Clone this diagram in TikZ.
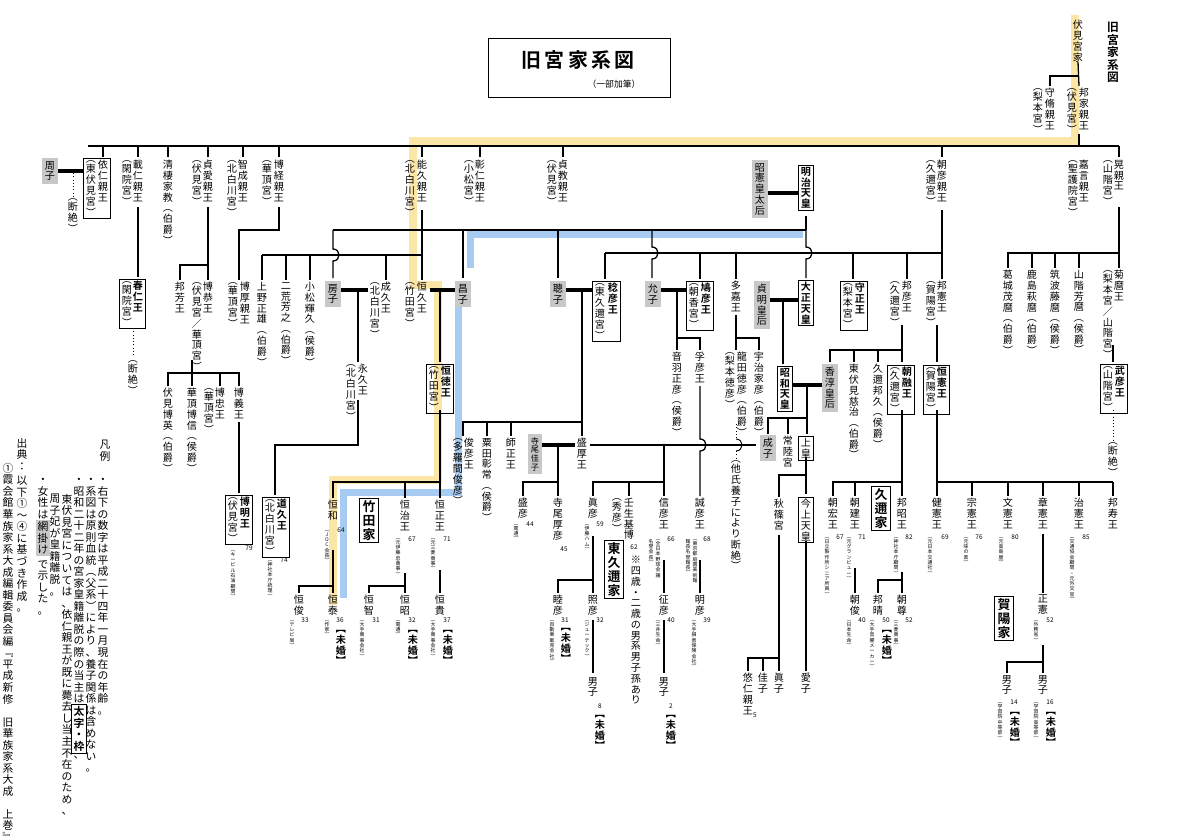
\documentclass[tikz,border=0pt]{standalone}
\usepackage{fontspec}
\setmainfont{Noto Sans CJK JP}[BoldFont={Noto Sans CJK JP Bold}]
\usetikzlibrary{fit}
\definecolor{yel}{HTML}{FBE6A8}
\definecolor{blu}{HTML}{A8CBF2}
\definecolor{gry}{HTML}{C8C8C8}
\def\vsloop#1{\ifx#1\relax\else\hbox to 1.05em{\hss#1\hss}\expandafter\vsloop\fi}
\newcommand\vs[1]{\vtop{\baselineskip=1.07em\lineskiplimit=-20pt\lineskip=0pt\vsloop#1\relax}}
\newcommand\pp[4][nm]{\node[#1] (#2) at (#3) {\vs{#4}};}
\newcommand\ag[3]{\node[age] (#1) at (#2) {#3};}
\newcommand\vb[4]{\draw[ln] (#1,#2) -- (#1,#3-6) .. controls (#1+8,#3-6) and (#1+8,#3+6) .. (#1,#3+6) -- (#1,#4);}
\begin{document}
\begin{tikzpicture}[x=0.03cm,y=-0.03cm,
 nm/.style={anchor=north,inner sep=0,font=\fontsize{8.6}{9}\selectfont},
 nb/.style={nm,font=\bfseries\fontsize{8.6}{9}\selectfont},
 gr/.style={nm,fill=gry,inner sep=2.5pt},
 job/.style={anchor=north,inner sep=0,font=\fontsize{4.2}{4.5}\selectfont},
 age/.style={anchor=north,inner sep=0,font=\fontsize{5.5}{6}\selectfont},
 mk/.style={anchor=north,inner sep=0,font=\bfseries\fontsize{8.6}{9}\selectfont},
 bx/.style={draw,line width=0.8pt,inner sep=1.6pt},
 house/.style={draw,line width=0.7pt,anchor=north,inner sep=2pt,font=\bfseries\fontsize{11}{12}\selectfont},
 lg/.style={anchor=north,inner sep=0,font=\fontsize{9.2}{10}\selectfont},
 ln/.style={line width=1.1pt},
 mar/.style={line width=2.6pt},
 dot/.style={line width=0.8pt,dotted}]
\useasboundingbox (0,0) rectangle (1200,839);
\fill[white] (0,0) rectangle (1200,839);
% highlights
\draw[yel,line width=0.24cm] (1075,15) -- (1075,141) -- (413,141) -- (413,285) -- (438,285) -- (438,480) -- (333,480) -- (333,605);
\draw[blu,line width=0.21cm] (470,268) -- (470,234) -- (803,234);
\draw[blu,line width=0.21cm] (458,307) -- (458,492) -- (343,492) -- (343,598);
% title
\node[draw,line width=0.6pt,minimum width=5.46cm,minimum height=1.77cm,anchor=north west] (tbox) at (488,38) {};
\node[font=\bfseries\fontsize{17}{18}\selectfont] (title) at (578,60) {旧\,宮\,家\,系\,図};
\node[font=\fontsize{7.5}{8}\selectfont] (sub) at (614,84) {（一部加筆）};
\node[anchor=north,inner sep=0,font=\bfseries\fontsize{10}{11}\selectfont] (t2) at (1113,22) {\vs{旧宮家系図}};
% top
\pp{fushimi}{1078,20}{伏見宮家}
\pp{kuniie}{1084,88}{邦家親王}\pp{kuniieS}{1072,88}{︵伏見宮︶}
\pp{morioki}{1050,88}{守脩親王}\pp{moriokiS}{1038,88}{︵梨本宮︶}
\draw[ln] (fushimi.south) -- (1079,86);
\draw[ln] (1079,76) -| (1050,86);
\draw[ln] (1079,134) -- (1079,146);
\draw[ln] (88,146) -- (1119,146);
\foreach \x in {103,138,168,208,243,279,422,480,563,942,1119} \draw[ln] (\x,146) -- (\x,157);
% left branch
\pp[gr]{chikako}{50,158}{周子}
\pp{yorihito}{103,160}{依仁親王}\pp{yorihitoS}{91,160}{︵東伏見宮︶}
\node[bx,fit=(yorihito)(yorihitoS)] (yorihitoB) {};
\draw[mar] (chikako.east |- 0,171) -- (yorihitoB.west |- 0,171);
\draw[dot] (73,173) -- (73,196);
\pp{dz1}{73,198}{︵断絶︶}
\pp{kotohito}{138,160}{載仁親王}\pp{kotohitoS}{127,160}{︵閑院宮︶}
\draw[ln] (138,207) -- (138,277);
\pp[nb]{haruhito}{138,281}{春仁王}\pp{haruhitoS}{127,281}{︵閑院宮︶}
\node[bx,fit=(haruhito)(haruhitoS)] (haruhitoB) {};
\draw[dot] (133,328) -- (133,357);
\pp{dz2}{133,360}{︵断絶︶}
\pp{kiyosu}{168,160}{清棲家教︵伯爵︶}
\pp{sadanaru}{208,160}{貞愛親王}\pp{sadanaruS}{197,160}{︵伏見宮︶}
\draw[ln] (208,207) -- (208,280); \draw[ln] (208,265) -| (180,280);
\pp{kuniyoshi}{180,282}{邦芳王}
\pp{hiroyasu}{208,282}{博恭王}\pp{hiroyasuS}{197,282}{︵伏見宮／華頂宮︶}
\draw[ln] (192,360) -- (192,386); \draw[ln] (168,386) |- (239,373) -- (239,386); \draw[ln] (220,373) -- (220,386);
\pp{hirohide}{168,388}{伏見博英︵伯爵︶}
\pp{hironobu}{192,388}{華頂博信︵侯爵︶}
\pp{hirotada}{220,388}{博忠王}\pp{hirotadaS}{209,388}{︵華頂宮︶}
\pp{hiroyoshi}{239,388}{博義王}
\draw[ln] (239,422) -- (239,493);
\pp[nb]{hiroaki}{245,497}{博明王}\pp{hiroakiS}{233,497}{︵伏見宮︶}
\node[bx,fit=(hiroaki)(hiroakiS)] (hiroakiB) {};
\ag{a79}{249,546}{79}\pp[job]{j79}{233,550}{︵キービル石油顧問︶}
\pp{sakihisa}{243,160}{智成親王}\pp{sakihisaS}{232,160}{︵北白川宮︶}
\pp{hirotsune}{279,160}{博経親王}\pp{hirotsuneS}{267,160}{︵華頂宮︶}
\draw[ln] (279,207) -- (279,230) -| (239,280);
\pp{hiroatsu}{245,282}{博厚親王}\pp{hiroatsuS}{233,282}{︵華頂宮︶}
% Kitashirakawa
\pp{yoshihisa}{422,160}{能久親王}\pp{yoshihisaS}{410,160}{︵北白川宮︶}
\draw[ln] (422,210) -- (422,280);
\draw[ln] (262,255) -- (422,255);
\foreach \x in {262,286,310,386} \draw[ln] (\x,255) -- (\x,280);
\pp{ueno}{262,282}{上野正雄︵伯爵︶}
\pp{futara}{286,282}{二荒芳之︵伯爵︶}
\pp{komatsu}{310,282}{小松輝久︵侯爵︶}
\pp{naruhisa}{386,282}{成久王}\pp{naruhisaS}{375,282}{︵北白川宮︶}
\pp{tsunehisa}{422,282}{恒久王}\pp{tsunehisaS}{410,282}{︵竹田宮︶}
\pp[gr]{fusako}{333,281}{房子}
\draw[mar] (fusako.east |- 0,290) -- (368,290);
\draw[ln] (358,290) -- (358,362);
\pp{nagahisa}{363,364}{永久王}\pp{nagahisaS}{351,364}{︵北白川宮︶}
\draw[ln] (358,400) -- (358,445) -| (275,495);
\pp[nb]{michihisa}{282,499}{道久王}\pp{michihisaS}{270,499}{︵北白川宮︶}
\node[bx,fit=(michihisa)(michihisaS)] (michihisaB) {};
\ag{a74}{284,558}{74}\pp[job]{j74}{270,560}{︵神社本庁統理︶}
% Takeda
\pp[gr]{masako}{463,281}{昌子}
\draw[mar] (430,290) -- (masako.west |- 0,290);
\draw[ln] (440,290) -- (440,362);
\pp[nb]{tsunenori}{446,366}{恒徳王}\pp{tsunenoriS}{434,366}{︵竹田宮︶}
\node[bx,fit=(tsunenori)(tsunenoriS)] (tsunenoriB) {};
\draw[ln] (440,410) -- (440,498); \draw[ln] (333,498) |- (440,482); \draw[ln] (405,482) -- (405,498);
\pp{tsunekazu}{333,500}{恒和}\ag{a64}{341,528}{64}\pp[job]{j64}{327,530}{︵JOC会長︶}
\node[house] (takeda) at (369,498) {\vs{竹田家}};
\pp{tsuneharu}{405,500}{恒治王}\ag{a67}{412,537}{67}\pp[job]{j67}{398,538}{︵元伊藤忠商事︶}
\pp{tsunetada}{440,500}{恒正王}\ag{a71}{447,537}{71}\pp[job]{j71}{433,538}{︵元三菱商事︶}
\draw[ln] (333,550) -- (333,593); \draw[ln] (333,586) -| (299,593);
\draw[ln] (405,573) -- (405,593); \draw[ln] (405,586) -| (369,593);
\draw[ln] (440,570) -- (440,593);
\pp{tsuneyoshi}{299,595}{恒俊}\ag{a33}{305,618}{33}\pp[job]{j33}{292,620}{︵テレビ局︶}
\pp{tsuneyasu}{333,595}{恒泰}\ag{a36}{340,618}{36}\pp[job]{j36}{327,620}{︵作家︶}\pp[mk]{m36}{341,630}{︻未婚︼}
\pp{tsunetomo}{369,595}{恒智}\ag{a31}{376,618}{31}\pp[job]{j31}{362,620}{︵大手商事会社︶}
\pp{tsuneaki}{405,595}{恒昭}\ag{a32}{412,618}{32}\pp[job]{j32}{398,620}{︵電通︶}\pp[mk]{m32}{413,630}{︻未婚︼}
\pp{tsunetaka}{440,595}{恒貴}\ag{a37}{447,618}{37}\pp[job]{j37}{433,620}{︵大手商事会社︶}\pp[mk]{m37}{448,630}{︻未婚︼}
% Komatsu, Fushimi
\pp{akihito}{480,160}{彰仁親王}\pp{akihitoS}{469,160}{︵小松宮︶}
\pp{sadanori}{563,160}{貞教親王}\pp{sadanoriS}{552,160}{︵伏見宮︶}
% Meiji
\pp[gr]{shoken}{760,160}{昭憲皇太后}
\pp[nb]{meiji}{806,167}{明治天皇}
\node[bx,fit=(meiji)] (meijiB) {};
\draw[mar] (shoken.east |- 0,193) -- (meijiB.west |- 0,193);
\draw[ln] (333,230) -- (806,230);
\draw[ln] (806,216) -- (806,230);
\vb{806}{230}{253}{278}
\vb{333}{230}{255}{278}
\draw[ln] (463,230) -- (463,278); \draw[ln] (558,230) -- (558,278);
\vb{652}{230}{253}{278}
\draw[ln] (605,253) -- (942,253);
\foreach \x in {605,700,736,853,907} \draw[ln] (\x,253) -- (\x,279);
\draw[ln] (942,210) -- (942,279);
\pp[gr]{toshiko}{558,281}{聰子}
\pp[nb]{naruhiko}{613,283}{稔彦王}\pp{naruhikoS}{600,283}{︵東久邇宮︶}
\node[bx,fit=(naruhiko)(naruhikoS)] (naruhikoB) {};
\draw[mar] (toshiko.east |- 0,290) -- (naruhikoB.west |- 0,290);
\draw[ln] (582,290) -- (582,436); \draw[ln] (463,436) |- (582,422);
\draw[ln] (487,422) -- (487,436); \draw[ln] (511,422) -- (511,436);
\pp{toshihiko}{469,438}{俊彦王}\pp{toshihikoS}{458,438}{︵多羅間俊彦︶}
\pp{awata}{487,438}{粟田彰常︵侯爵︶}
\pp{moromasa}{511,438}{師正王}
\pp{morihiro}{582,438}{盛厚王}
\node[anchor=north,fill=gry,inner sep=2.5pt,font=\fontsize{7}{7.4}\selectfont] (yoshiko) at (535,434) {\vs{寺尾佳子}};
\draw[mar] (yoshiko.east |- 0,445) -- (575,445);
\draw[ln] (590,445) -- (756,445);
\draw[ln] (558,445) -- (558,496); \draw[ln] (523,496) |- (558,482);
\pp{morihiko}{523,498}{盛彦}\ag{a44}{530,522}{44}\pp[job]{j44}{516,524}{︵電通︶}
\pp{atsuhiko}{558,498}{寺尾厚彦}\ag{a45}{564,547}{45}
\draw[ln] (664,445) -- (664,496); \draw[ln] (593,496) |- (664,482); \draw[ln] (629,482) -- (629,496);
\pp{nobuhikoM}{593,498}{眞彦}\ag{a59}{600,522}{59}\pp[job]{j59}{587,524}{︵伊藤ハム︶}
\pp{mibu}{629,498}{壬生基博}\pp{mibuS}{617,498}{︵秀彦︶}\ag{a62}{634,545}{62}
\pp{note}{636,556}{※四歳・二歳の男系男子孫あり}
\pp{nobuhiko}{664,498}{信彦王}\ag{a66}{671,537}{66}\pp[job]{j66}{658,539}{︵全日本野球会議}\pp[job]{j66b}{651,539}{名誉会長︶}
\node[house] (higashikuni) at (614,540) {\vs{東久邇家}};
\draw[ln] (593,536) -- (593,593); \draw[ln] (593,580) -| (558,593);
\draw[ln] (664,560) -- (664,593);
\pp{mutsuhiko}{558,595}{睦彦}\ag{b31}{565,618}{31}\pp[job]{jb31}{552,620}{︵自動車販売会社︶}\pp[mk]{mb31}{566,628}{︻未婚︼}
\pp{teruhiko}{593,595}{照彦}\ag{b32}{600,618}{32}\pp[job]{jb32}{587,620}{︵ジューテック︶}
\draw[ln] (593,620) -- (593,673);
\pp{dan1}{593,677}{男子}\ag{a8}{600,704}{8}\pp[mk]{m8}{600,715}{︻未婚︼}
\pp{yukihiko}{664,595}{征彦}\ag{b40}{671,618}{40}\pp[job]{jb40}{658,620}{︵三井生命︶}
\draw[ln] (664,620) -- (664,673);
\pp{dan2}{664,677}{男子}\ag{a2}{671,704}{2}\pp[mk]{m2}{671,715}{︻未婚︼}
% Asaka
\pp[gr]{nobuko}{653,281}{允子}
\pp[nb]{yasuhiko}{706,283}{鳩彦王}\pp{yasuhikoS}{694,283}{︵朝香宮︶}
\node[bx,fit=(yasuhiko)(yasuhikoS)] (yasuhikoB) {};
\draw[mar] (nobuko.east |- 0,290) -- (yasuhikoB.west |- 0,290);
\draw[ln] (677,290) -- (677,350); \draw[ln] (677,338) -| (700,350);
\pp{otowa}{677,352}{音羽正彦︵侯爵︶}
\pp{takahiko}{700,352}{孚彦王}
\vb{700}{386}{445}{496}
\pp{tomohiko}{700,498}{誠彦王}\ag{a68}{707,537}{68}\pp[job]{j68}{695,539}{︵東京都庭園美術館}\pp[job]{j68b}{688,539}{館長名誉館長︶}
\draw[ln] (700,560) -- (700,593);
\pp{akihiko}{700,595}{明彦}\ag{a39}{707,618}{39}\pp[job]{j39}{694,620}{︵大手損害保険会社︶}
% Taka
\pp{taka}{736,281}{多嘉王}
\draw[ln] (736,315) -- (736,350); \draw[ln] (736,338) -| (759,350);
\pp{tatsuta}{742,352}{龍田徳彦︵伯爵︶}\pp{tatsutaS}{730,352}{︵梨本徳彦︶}
\pp{uji}{759,352}{宇治家彦︵伯爵︶}
\draw[dot] (736,424) -- (736,439); \draw[line width=0.8pt] (736,439) .. controls (744,439) and (744,451) .. (736,451); \draw[dot] (736,451) -- (736,458);
\pp{dz3}{736,460}{︵他氏養子により断絶︶}
% Taisho
\pp[gr]{teimei}{762,281}{貞明皇后}
\pp[nb]{taisho}{806,282}{大正天皇}
\node[bx,fit=(taisho)] (taishoB) {};
\draw[mar] (teimei.east |- 0,300) -- (taishoB.west |- 0,300);
\draw[ln] (783,300) -- (783,364);
\pp[nb]{showa}{785,368}{昭和天皇}
\node[bx,fit=(showa)] (showaB) {};
\pp[gr]{kojun}{830,364}{香淳皇后}
\draw[mar] (showaB.east |- 0,385) -- (kojun.west |- 0,385);
\draw[ln] (807,385) -- (807,434); \draw[ln] (768,434) |- (807,418); \draw[ln] (788,418) -- (788,434);
\pp[gr]{shigeko}{768,435}{成子}
\pp{hitachi}{788,436}{常陸宮}
\pp{joko}{806,438}{上皇}
\node[bx,fit=(joko)] (jokoB) {};
\draw[ln] (806,457) -- (806,494); \draw[ln] (779,497) |- (806,475);
\pp{akishino}{779,499}{秋篠宮}
\pp{kinjo}{806,499}{今上天皇}
\node[bx,fit=(kinjo)] (kinjoB) {};
\draw[ln] (779,535) -- (779,671); \draw[ln] (748,671) |- (779,658); \draw[ln] (763,658) -- (763,671);
\pp{hisahito}{748,673}{悠仁親王}\ag{a5}{755,713}{5}
\pp{kako}{763,673}{佳子}
\pp{mako}{779,673}{眞子}
\draw[ln] (806,541) -- (806,671);
\pp{aiko}{806,673}{愛子}
% Kuni / Nashimoto / Kaya
\pp{asahiko}{942,160}{朝彦親王}\pp{asahikoS}{931,160}{︵久邇宮︶}
\pp{yoshikoto}{1084,160}{嘉言親王}\pp{yoshikotoS}{1073,160}{︵聖護院宮︶}
\pp{akira}{1119,160}{晃親王}\pp{akiraS}{1108,160}{︵山階宮︶}
\draw[ln] (1119,207) -- (1119,268); \draw[ln] (1008,268) |- (1119,253);
\foreach \x in {1032,1055,1079} \draw[ln] (\x,253) -- (\x,268);
\pp{katsuragi}{1008,270}{葛城茂麿︵伯爵︶}
\pp{kashima}{1032,270}{鹿島萩麿︵伯爵︶}
\pp{tsukuba}{1055,270}{筑波藤麿︵侯爵︶}
\pp{yamashina}{1079,270}{山階芳麿︵侯爵︶}
\pp{kikumaro}{1119,270}{菊麿王}\pp{kikumaroS}{1108,270}{︵梨本宮／山階宮︶}
\draw[ln] (1113,345) -- (1113,362);
\pp[nb]{takehiko}{1120,366}{武彦王}\pp{takehikoS}{1108,366}{︵山階宮︶}
\node[bx,fit=(takehiko)(takehikoS)] (takehikoB) {};
\draw[dot] (1113,410) -- (1113,440);
\pp{dz4}{1113,442}{︵断絶︶}
\pp[nb]{morimasa}{860,283}{守正王}\pp{morimasaS}{848,283}{︵梨本宮︶}
\node[bx,fit=(morimasa)(morimasaS)] (morimasaB) {};
\pp{kunihiko}{907,281}{邦彦王}\pp{kunihikoS}{895,281}{︵久邇宮︶}
\draw[ln] (902,325) -- (902,362); \draw[ln] (830,362) |- (902,350); \draw[ln] (854,350) -- (854,362); \draw[ln] (878,350) -- (878,362);
\pp{higashifushimi}{854,364}{東伏見慈治︵伯爵︶}
\pp{kuniKunihisa}{878,364}{久邇邦久︵侯爵︶}
\pp[nb]{asaakira}{907,367}{朝融王}\pp{asaakiraS}{895,367}{︵久邇宮︶}
\node[bx,fit=(asaakira)(asaakiraS)] (asaakiraB) {};
\draw[ln] (902,410) -- (902,496); \draw[ln] (833,496) |- (902,482); \draw[ln] (855,482) -- (855,496);
\pp{asahiro}{833,498}{朝宏王}\ag{c67}{840,535}{67}\pp[job]{jc67}{827,537}{︵日立製作所シニア所員︶}
\pp{asatake}{855,498}{朝建王}\ag{c71}{862,535}{71}\pp[job]{jc71}{849,537}{︵元グランビュー︶}
\node[house] (kuni) at (881,486) {\vs{久邇家}};
\pp{kuniaki}{902,498}{邦昭王}\ag{c82}{909,535}{82}\pp[job]{jc82}{896,537}{︵神社本庁顧問︶}
\draw[ln] (855,568) -- (855,593);
\pp{asatoshi}{855,595}{朝俊}\ag{c40}{862,618}{40}\pp[job]{jc40}{849,620}{︵日本生命︶}
\draw[ln] (902,572) -- (902,593); \draw[ln] (878,593) |- (902,580);
\pp{kuniharu}{878,595}{邦晴}\ag{c50}{886,618}{50}\pp[job]{jc50}{872,620}{︵大手音響メーカー︶}\pp[mk]{mc50}{887,630}{︻未婚︼}
\pp{asataka}{902,595}{朝尊}\ag{c52}{909,618}{52}\pp[job]{jc52}{896,620}{︵三菱商事︶}
\pp{kuninori}{942,281}{邦憲王}\pp{kuninoriS}{931,281}{︵賀陽宮︶}
\draw[ln] (937,325) -- (937,362);
\pp[nb]{tsunenoriK}{942,367}{恒憲王}\pp{tsunenoriKS}{931,367}{︵賀陽宮︶}
\node[bx,fit=(tsunenoriK)(tsunenoriKS)] (tsunenoriKB) {};
\draw[ln] (937,410) -- (937,496); \draw[ln] (937,482) -- (1113,482);
\foreach \x in {972,1008,1043,1079,1113} \draw[ln] (\x,482) -- (\x,496);
\pp{takenori}{937,498}{健憲王}\ag{d69}{945,535}{69}\pp[job]{jd69}{930,537}{︵元日本交通社︶}
\pp{munenori}{972,498}{宗憲王}\ag{d76}{979,535}{76}\pp[job]{jd76}{966,537}{︵元味の素︶}
\pp{fuminori}{1008,498}{文憲王}\ag{d80}{1015,535}{80}\pp[job]{jd80}{1001,537}{︵元高島屋︶}
\pp{akinori}{1043,498}{章憲王}
\pp{harunori}{1079,498}{治憲王}\ag{d85}{1086,535}{85}\pp[job]{jd85}{1072,537}{︵交通協会顧問・元外交官︶}
\pp{kunihisaK}{1113,498}{邦寿王}
\draw[ln] (1043,534) -- (1043,593);
\pp{masanori}{1043,595}{正憲}\ag{d52}{1050,618}{52}\pp[job]{jd52}{1036,620}{︵外務省︶}
\node[house] (kaya) at (1004,596) {\vs{賀陽家}};
\draw[ln] (1043,645) -- (1043,673); \draw[ln] (1007,673) |- (1043,662);
\pp{dan3}{1007,675}{男子}\ag{d14}{1014,700}{14}\pp[job]{jd14}{1000,702}{︵学習院中等部︶}\pp[mk]{md14}{1015,712}{︻未婚︼}
\pp{dan4}{1043,675}{男子}\ag{d16}{1050,700}{16}\pp[job]{jd16}{1036,702}{︵学習院高等部︶}\pp[mk]{md16}{1051,712}{︻未婚︼}
% legend
\pp[lg]{lh}{105,440}{凡例}
\pp[lg]{l1}{103,478}{・右下の数字は平成二十四年一月現在の年齢。}
\pp[lg]{l2}{91,478}{・系図は原則血統︵父系︶により、養子関係は含めない。}
\pp[lg]{l3}{79,478}{・昭和二十二年の宮家皇籍離脱の際の当主は}
\node[draw,line width=0.6pt,anchor=north,inner sep=1.5pt,font=\bfseries\fontsize{9.2}{10}\selectfont,yshift=-1pt] (l3b) at (l3.south) {\vs{太字・枠}};
\node[lg,yshift=-2pt] (l3c) at (l3b.south) {\vs{、}};
\pp[lg]{l4}{67,494}{東伏見宮については、依仁親王が既に薨去し当主不在のため、}
\pp[lg]{l5}{55,494}{周子妃が皇籍離脱。}
\pp[lg]{l6}{43,478}{・女性は}
\node[fill=gry,anchor=north,inner sep=1.5pt,font=\fontsize{9.2}{10}\selectfont,yshift=-1pt] (l6b) at (l6.south) {\vs{網掛け}};
\node[lg,yshift=-3pt] (l6c) at (l6b.south) {\vs{で示した。}};
\pp[lg]{s1}{22,438}{出典：}
\pp[lg]{s2}{22,476}{以下①～④に基づき作成。}
\pp[lg]{s3}{8,463}{①霞会館華族家系大成編輯委員会編﹃平成新修　旧華族家系大成　上巻﹄︵吉川弘文館︶}
\end{tikzpicture}
\end{document}
